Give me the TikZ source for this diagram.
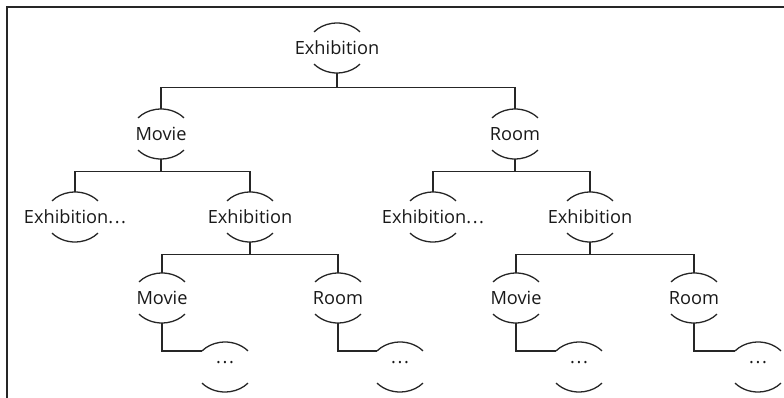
\documentclass[tikz,border=0pt]{standalone}
\usepackage{fontspec}
\setmainfont{Open Sans}
\usetikzlibrary{calc}
% spaced run of three periods
\newcommand{\spdots}{.\kern1.6pt.\kern1.6pt.}
\begin{document}
\begin{tikzpicture}[x=1pt,y=-1pt,
  treenode/.style={inner sep=0pt, minimum width=60pt, minimum height=50pt,
    font=\fontsize{18.2pt}{20pt}\selectfont, text=black!90},
  link/.style={line width=1.3pt, black!85},
  frameline/.style={line width=1.8pt, black!85}]
\useasboundingbox (0,0) rectangle (784,398);
% outer frame (top and left edges)
\draw[frameline] (7,398) -- (7,7) -- (784,7);

% nodes
\node[treenode] (root) at (337,48) {Exhibition};
\node[treenode] (mvA) at (161,134) {Movie};
\node[treenode] (rmA) at (515,134) {Room};
\node[treenode] (exdA) at (75,217) {Exhibition\spdots};
\node[treenode] (exA) at (250,217) {Exhibition};
\node[treenode] (exdB) at (433,217) {Exhibition\spdots};
\node[treenode] (exB) at (590,217) {Exhibition};
\node[treenode] (mvB) at (162,298) {Movie};
\node[treenode] (rmB) at (338,298) {Room};
\node[treenode] (mvC) at (516,298) {Movie};
\node[treenode] (rmC) at (694,298) {Room};
\node[treenode] (dA) at (225,367) {\raisebox{4pt}[0pt][0pt]{\spdots}};
\node[treenode] (dB) at (400,367) {\raisebox{4pt}[0pt][0pt]{\spdots}};
\node[treenode] (dC) at (579,367) {\raisebox{4pt}[0pt][0pt]{\spdots}};
\node[treenode] (dD) at (758,367) {\raisebox{4pt}[0pt][0pt]{\spdots}};

% top and bottom arcs around each node
\foreach \n in {root,mvA,rmA,exdA,exA,exdB,exB,mvB,rmB,mvC,rmC,dA,dB,dC,dD}{
  \draw[link] ($(\n.center)+(40:30pt and 25pt)$)
    arc[start angle=40,end angle=140,x radius=30pt,y radius=25pt];
  \draw[link] ($(\n.center)+(220:30pt and 25pt)$)
    arc[start angle=220,end angle=320,x radius=30pt,y radius=25pt];
}

% connectors
\draw[link] (root.south) -- ++(0,14) -| (mvA.north);
\draw[link] (root.south) -- ++(0,14) -| (rmA.north);
\draw[link] (mvA.south) -- ++(0,12) -| (exdA.north);
\draw[link] (mvA.south) -- ++(0,12) -| (exA.north);
\draw[link] (rmA.south) -- ++(0,12) -| (exdB.north);
\draw[link] (rmA.south) -- ++(0,12) -| (exB.north);
\draw[link] (exA.south) -- ++(0,12) -| (mvB.north);
\draw[link] (exA.south) -- ++(0,12) -| (rmB.north);
\draw[link] (exB.south) -- ++(0,12) -| (mvC.north);
\draw[link] (exB.south) -- ++(0,12) -| (rmC.north);
\draw[link] (mvB.south) |- ($(dA.center)+(140:30pt and 25pt)$);
\draw[link] (rmB.south) |- ($(dB.center)+(140:30pt and 25pt)$);
\draw[link] (mvC.south) |- ($(dC.center)+(140:30pt and 25pt)$);
\draw[link] (rmC.south) |- ($(dD.center)+(140:30pt and 25pt)$);
\end{tikzpicture}
\end{document}
